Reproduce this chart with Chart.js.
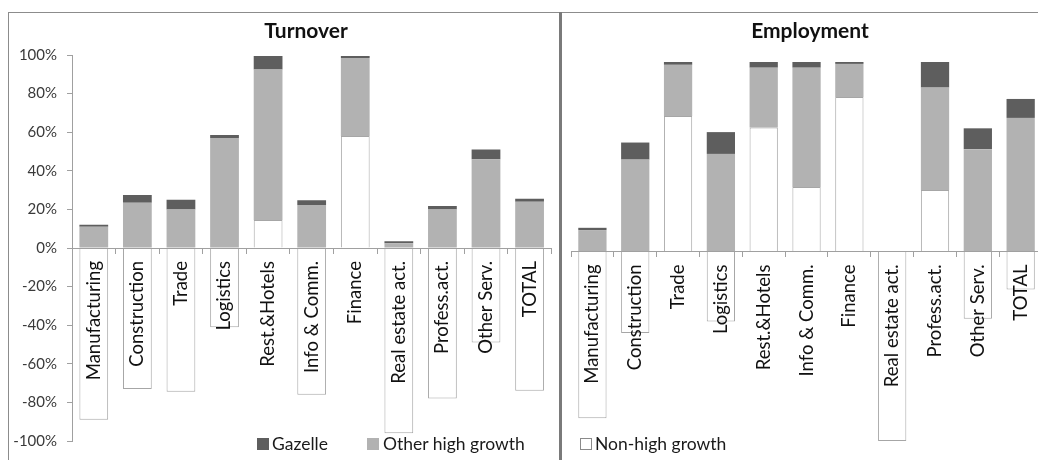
<!DOCTYPE html>
<html>
<head>
<meta charset="utf-8">
<script src="https://cdn.jsdelivr.net/npm/chart.js@4.4.1/dist/chart.umd.min.js"></script>
<style>
  html, body { margin: 0; padding: 0; background: #fff; }
  #wrap { position: relative; width: 1038px; height: 460px; overflow: hidden; background: #fff; font-family: Lato, "Open Sans", sans-serif; }
  canvas { position: absolute; }
  .frameTop { position: absolute; left: 8px; top: 12px; width: 1040px; height: 1px; background: #8c8c8c; }
  .frameLeft { position: absolute; left: 8px; top: 12px; width: 1px; height: 460px; background: #8c8c8c; }
  .divider { position: absolute; left: 559px; top: 12px; width: 3px; height: 460px; background: #7a7a7a; }
  .title { position: absolute; top: 18px; height: 24px; line-height: 24px; font-size: 21px; font-weight: bold; color: #111; transform: translateX(-50%); white-space: nowrap; }
  .leg { position: absolute; top: 433px; height: 22px; line-height: 22px; font-size: 17.5px; color: #1a1a1a; white-space: nowrap; }
  .box { position: absolute; top: 438px; width: 12px; height: 12px; box-sizing: border-box; }
</style>
</head>
<body>
<div id="wrap">
  <canvas id="c1" width="552" height="448" style="left:8px;top:12px;"></canvas>
  <canvas id="c2" width="490" height="448" style="left:561px;top:12px;"></canvas>
  <div class="frameTop"></div>
  <div class="frameLeft"></div>
  <div class="divider"></div>
  <div class="title" style="left:306px;">Turnover</div>
  <div class="title" style="left:810px;">Employment</div>
  <div class="box" style="left:257px;background:#5e5e5e;"></div>
  <div class="leg" style="left:272px;">Gazelle</div>
  <div class="box" style="left:367px;background:#b2b2b2;"></div>
  <div class="leg" style="left:383px;">Other high growth</div>
  <div class="box" style="left:580px;background:#fff;border:1px solid #8a8a8a;"></div>
  <div class="leg" style="left:595px;">Non-high growth</div>
</div>
<script>
const categories = ['Manufacturing','Construction','Trade','Logistics','Rest.&Hotels','Info & Comm.','Finance','Real estate act.','Profess.act.','Other Serv.','TOTAL'];
const seriesNames = ['Non-high growth','Other high growth','Gazelle'];

const turnoverNonHigh = [-89, -73, -74.5, -41, 14.5, -76, 58, -96, -78, -49, -74];
const turnoverOther   = [11, 23.5, 20, 57, 78, 22.3, 40.5, 2.5, 20, 46, 24];
const turnoverGazelle = [1, 4, 5, 1.5, 7, 2.5, 1, 1, 1.7, 5, 1.5];

const employmentNonHigh = [-88, -43, 71.5, -37, 65.5, 34, 81.5, -100, 32.5, -35.5, -20];
const employmentOther   = [11.3, 48.5, 27, 51.5, 31.5, 63, 17.5, 0, 54, 54, 70.5];
const employmentGazelle = [1.2, 9, 2, 11.5, 3, 3, 1, 0, 13.5, 11, 10];

const yTicks = [-100, -80, -60, -40, -20, 0, 20, 40, 60, 80, 100];

const AXIS = '#a0a0a0';

function makeDatasets(nh, oth, gz, bp) {
  return [
    { label: seriesNames[0], data: nh, backgroundColor: '#ffffff', borderColor: '#a6a6a6', borderWidth: 1, barPercentage: bp, categoryPercentage: 1 },
    { label: seriesNames[1], data: oth, backgroundColor: '#b2b2b2', borderColor: '#b2b2b2', borderWidth: 0, barPercentage: bp, categoryPercentage: 1 },
    { label: seriesNames[2], data: gz, backgroundColor: '#5e5e5e', borderColor: '#5e5e5e', borderWidth: 0, barPercentage: bp, categoryPercentage: 1 }
  ];
}

function makeOptions(showY, padding) {
  return {
    responsive: false,
    animation: false,
    devicePixelRatio: 1,
    layout: { padding: padding },
    plugins: { legend: { display: false }, title: { display: false }, tooltip: { enabled: false } },
    scales: {
      x: {
        stacked: true,
        position: { y: 0 },
        offset: true,
        grid: { display: true, drawOnChartArea: false, drawTicks: true, tickLength: 5, color: AXIS, offset: true, z: 1 },
        border: { display: true, color: AXIS, width: 1, z: 1 },
        ticks: { z: 2, autoSkip: false, minRotation: 90, maxRotation: 90, padding: 8, color: '#111', font: { family: 'Lato', size: 18.5 } }
      },
      y: {
        stacked: true,
        display: showY,
        min: -100, max: 100,
        afterBuildTicks: s => { s.ticks = yTicks.map(v => ({ value: v })); },
        afterFit: s => { if (showY) s.width = 64; },
        grid: { drawOnChartArea: false, drawTicks: true, tickLength: 5, color: AXIS },
        border: { display: true, color: AXIS, width: 1 },
        ticks: { padding: 10, color: '#3a3a3a', font: { family: 'Lato', size: 15 }, callback: v => v + '%' }
      }
    }
  };
}

new Chart(document.getElementById('c1'), {
  type: 'bar',
  data: { labels: categories, datasets: makeDatasets(turnoverNonHigh, turnoverOther, turnoverGazelle, 0.66) },
  options: makeOptions(true, { top: 43, bottom: 19, left: 0, right: 5 })
});

new Chart(document.getElementById('c2'), {
  type: 'bar',
  data: { labels: categories, datasets: makeDatasets(employmentNonHigh, employmentOther, employmentGazelle, 0.66) },
  options: makeOptions(false, { top: 50, bottom: 19, left: 10, right: 3 })
});
</script>
</body>
</html>
